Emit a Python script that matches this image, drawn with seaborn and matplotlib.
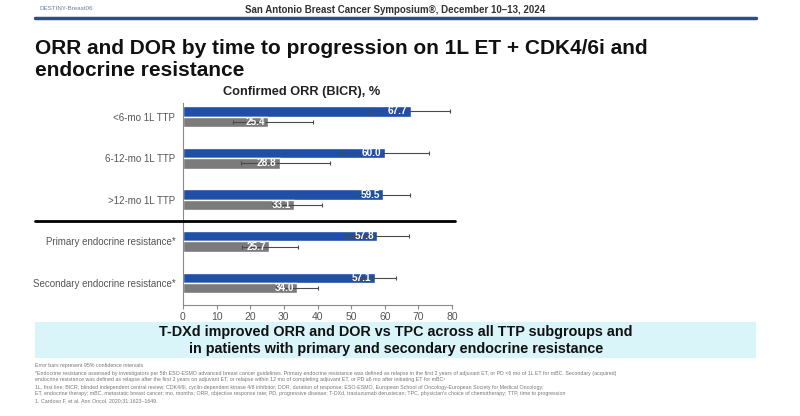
import pandas as pd
import seaborn as sns
from matplotlib import pyplot as plt
from matplotlib.lines import Line2D
from matplotlib.patches import Rectangle

# Valores (IC 95% estimados a ojo)
grupos = ["<6-mo 1L TTP", "6-12-mo 1L TTP", ">12-mo 1L TTP",
          "Primary endocrine resistance*", "Secondary endocrine resistance*"]
tdxd = [67.7, 60.0, 59.5, 57.8, 57.1]
tdxd_lo = [55.0, 46.7, 50.8, 48.6, 50.5]
tdxd_hi = [79.5, 73.2, 67.6, 67.2, 63.4]
tpc = [25.4, 28.8, 33.1, 25.7, 34.0]
tpc_lo = [15.0, 17.2, 26.4, 17.4, 27.8]
tpc_hi = [38.8, 43.8, 41.3, 34.1, 40.2]
x_ticks = [0, 10, 20, 30, 40, 50, 60, 70, 80]

azul = '#1f4fa6'
gris = '#7b7b7b'

df = pd.DataFrame({
    'grupo': grupos * 2,
    'orr': tdxd + tpc,
    'brazo': ['T-DXd'] * len(grupos) + ['TPC'] * len(grupos),
})

sns.set_style('white')
plt.rcParams['font.family'] = ['Liberation Sans', 'DejaVu Sans']

fig = plt.figure(figsize=(8, 4.16), dpi=100)
fig.patch.set_facecolor('white')
W, H = 800, 416
ax = fig.add_axes([183 / W, 1 - 305 / H, (452 - 183) / W, (305 - 103) / H])

sns.barplot(data=df, y='grupo', x='orr', hue='brazo', orient='h',
            palette=[azul, gris], width=0.5, errorbar=None, legend=False,
            saturation=1, ax=ax)

# barras de error y etiquetas dentro de cada barra
for cont, vals, lo, hi in zip(ax.containers, [tdxd, tpc], [tdxd_lo, tpc_lo], [tdxd_hi, tpc_hi]):
    ys = [b.get_y() + b.get_height() / 2 for b in cont]
    err = [[v - l for v, l in zip(vals, lo)], [h - v for v, h in zip(vals, hi)]]
    ax.errorbar(vals, ys, xerr=err, fmt='none', ecolor='#4a4a4a', elinewidth=0.8,
                capsize=1.5, capthick=0.8, zorder=3)
    for v, y in zip(vals, ys):
        ax.text(v - 1.0, y, f'{v:.1f}', ha='right', va='center', color='white',
                fontsize=7.2, fontweight='bold', zorder=4)

ax.set_xlim(0, 80)
ax.set_ylim(4.53, -0.325)
ax.set_xticks(x_ticks)
ax.set_xlabel('')
ax.set_ylabel('')
for s in ['top', 'right']:
    ax.spines[s].set_visible(False)
for s in ['left', 'bottom']:
    ax.spines[s].set_color('#8a8a8a')
    ax.spines[s].set_linewidth(0.8)
ax.tick_params(axis='x', length=3, width=0.8, color='#8a8a8a', labelsize=7.5,
               labelcolor='#555555', pad=2, bottom=True)
ax.tick_params(axis='y', length=0, labelsize=7.0, labelcolor='#555555', pad=5.5)

# línea separadora entre TTP y resistencia endocrina
fig.add_artist(Line2D([35 / W, 455 / W], [1 - 221 / H] * 2, color='black', lw=2))

# encabezado
fig.text(395 / W, 1 - 10 / H, 'San Antonio Breast Cancer Symposium®, December 10–13, 2024',
         ha='center', va='center', fontsize=7.0, fontweight='bold', color='#333333')
fig.text(40 / W, 1 - 8 / H, 'DESTINY-Breast06', ha='left', va='center',
         fontsize=4.5, color='#6a7fa0')
fig.add_artist(Line2D([35 / W, 756 / W], [1 - 17.5 / H] * 2, color='#2f4d7e', lw=2.5))

fig.text(35 / W, 1 - 59 / H,
         'ORR and DOR by time to progression on 1L ET + CDK4/6i and\nendocrine resistance',
         ha='left', va='center', fontsize=15.0, fontweight='bold', color='#111111',
         linespacing=1.2)
fig.text(302 / W, 1 - 92 / H, 'Confirmed ORR (BICR), %', ha='center', va='center',
         fontsize=9.2, fontweight='bold', color='#222222')

# recuadro de conclusión
fig.add_artist(Rectangle((35 / W, 1 - 358 / H), (756 - 35) / W, 36 / H,
                         transform=fig.transFigure, color='#d9f5fa', lw=0))
fig.text(396 / W, 1 - 340.5 / H,
         'T-DXd improved ORR and DOR vs TPC across all TTP subgroups and\n'
         'in patients with primary and secondary endocrine resistance',
         ha='center', va='center', fontsize=10.4, fontweight='bold', color='#111111',
         linespacing=1.35)

notas = [
    'Error bars represent 95% confidence intervals',
    '*Endocrine resistance assessed by investigators per 5th ESO-ESMO advanced breast cancer guidelines. Primary endocrine resistance was defined as relapse in the first 2 years of adjuvant ET, or PD <6 mo of 1L ET for mBC. Secondary (acquired)',
    'endocrine resistance was defined as relapse after the first 2 years on adjuvant ET, or relapse within 12 mo of completing adjuvant ET, or PD ≥6 mo after initiating ET for mBC¹',
    '1L, first line; BICR, blinded independent central review; CDK4/6i, cyclin-dependent kinase 4/6 inhibitor; DOR, duration of response; ESO-ESMO, European School of Oncology-European Society for Medical Oncology;',
    "ET, endocrine therapy; mBC, metastatic breast cancer; mo, months; ORR, objective response rate; PD, progressive disease; T-DXd, trastuzumab deruxtecan; TPC, physician's choice of chemotherapy; TTP, time to progression",
    '1. Cardoso F, et al. Ann Oncol. 2020;31:1623–1649.',
]
for i, n in enumerate(notas):
    fig.text(35 / W, 1 - (366 + i * 7) / H, n, ha='left', va='center',
             fontsize=3.8, color='#777777')

fig.savefig('out.png', dpi=100)
